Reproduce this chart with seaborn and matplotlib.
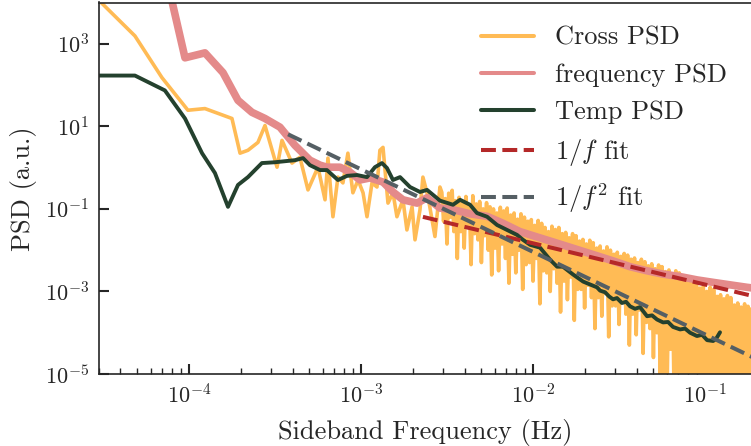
import numpy as np
import matplotlib
matplotlib.use("Agg")
import matplotlib.pyplot as plt
import matplotlib.ticker as mticker
import seaborn as sns

# ---------------- data (log10 of frequency in Hz, log10 of PSD) ----------------
cross_logf = [
    -4.523, -4.314, -4.157, -4.006, -3.907, -3.750, -3.703, -3.657, -3.599, -3.558,
    -3.488, -3.459, -3.401, -3.355, -3.308, -3.250, -3.209, -3.192, -3.163, -3.134,
    -3.105, -3.076, -3.047, -3.017, -2.988, -2.965, -2.936, -2.907, -2.890, -2.872,
    -2.843, -2.814, -2.791, -2.756, -2.733, -2.703, -2.686, -2.657, -2.640, -2.610,
    -2.570, -2.541,
    -2.53, -2.52, -2.51, -2.50, -2.49, -2.48, -2.47, -2.46, -2.45, -2.44,
    -2.43, -2.42, -2.41, -2.40, -2.39, -2.38, -2.37, -2.36, -2.35, -2.34,
    -2.33, -2.32, -2.31, -2.30, -2.29, -2.28, -2.27, -2.26, -2.25, -2.24,
    -2.23, -2.22, -2.21, -2.20, -2.19, -2.18, -2.17, -2.16, -2.15, -2.14,
    -2.13, -2.12, -2.11, -2.10, -2.09, -2.08, -2.07, -2.06, -2.05, -2.04,
    -2.03, -2.02, -2.01, -2.00, -1.99, -1.98, -1.97, -1.96, -1.95, -1.94,
    -1.93, -1.92, -1.91, -1.90, -1.89, -1.88, -1.87, -1.86, -1.85, -1.84,
    -1.83, -1.82, -1.81, -1.80, -1.79, -1.78, -1.77, -1.76, -1.75, -1.74,
    -1.73, -1.72, -1.71, -1.70, -1.69, -1.68, -1.67, -1.66, -1.65, -1.64,
    -1.63, -1.62, -1.61, -1.60, -1.59, -1.58, -1.57, -1.56, -1.55, -1.54,
    -1.53, -1.52, -1.51, -1.50, -1.49, -1.48, -1.47, -1.46, -1.45, -1.44,
    -1.43, -1.42, -1.41, -1.40, -1.39, -1.38, -1.37, -1.36, -1.35, -1.34,
    -1.33, -1.32, -1.31, -1.30, -1.29, -1.28, -1.27, -1.26, -1.25, -1.24,
    -1.23, -1.22, -1.21, -1.20, -1.19, -1.18, -1.17, -1.16, -1.15, -1.14,
    -1.13, -1.12, -1.11, -1.10, -1.09, -1.08, -1.07, -1.06, -1.05, -1.04,
    -1.03, -1.02, -1.01, -1.00, -0.99, -0.98, -0.97, -0.96, -0.95, -0.94,
    -0.93, -0.92, -0.91, -0.90, -0.89, -0.88, -0.87, -0.86, -0.85, -0.84,
    -0.83, -0.82, -0.81, -0.80, -0.79, -0.78, -0.77, -0.76, -0.75, -0.74,
    -0.73, -0.72, -0.71, -0.70,
]
cross_logpsd = [
    4.05, 3.19, 2.18, 1.39, 1.43, 1.19, 0.35, 0.42, 0.61, 1.02,
    0.01, 0.66, 0.11, 0.25, -0.54, 0.01, -0.78, 0.23, -1.19, -0.23,
    -0.37, 0.35, -0.61, -0.30, -0.61, -1.19, -0.37, -0.47, 0.42, 0.49,
    -0.86, -0.61, -1.19, -0.78, -1.51, -0.95, -1.75, -1.02, -0.23, -0.71,
    -1.67, -0.47,
    -0.60, -1.30, -0.75, -1.85, -0.62, -1.20, -0.55, -1.55, -0.80, -2.20,
    -0.72, -1.55, -0.85, -1.95, -0.70, -1.45, -0.90, -2.35, -0.68, -1.60,
    -0.88, -1.75, -0.82, -2.30, -1.00, -1.65, -0.85, -2.00, -0.95, -2.60,
    -1.00, -1.95, -1.10, -2.50, -0.96, -1.85, -1.05, -2.20, -0.98, -2.80,
    -1.15, -2.10, -1.10, -2.55, -1.25, -2.00, -1.12, -2.95, -1.20, -2.35,
    -1.30, -2.30, -1.26, -2.75, -1.40, -2.20, -1.28, -3.30, -1.35, -2.50,
    -1.45, -2.55, -1.55, -3.00, -1.42, -2.45, -1.50, -2.80, -1.45, -3.50,
    -1.60, -2.75, -1.57, -3.20, -1.70, -2.65, -1.60, -3.70, -1.65, -2.95,
    -1.78, -2.95, -1.74, -3.40, -1.85, -2.85, -1.76, -3.15, -1.82, -3.90,
    -1.95, -3.15, -1.90, -3.60, -2.02, -3.05, -1.92, -4.10, -2.00, -3.35,
    -2.10, -3.35, -2.05, -3.80, -2.15, -3.25, -2.08, -3.55, -2.12, -4.30,
    -2.22, -3.55, -2.19, -4.05, -2.30, -3.45, -2.22, -4.50, -2.28, -3.75,
    -2.38, -3.90, -2.33, -4.60, -2.45, -4.00, -2.36, -5.30, -2.40, -5.60,
    -2.52, -5.20, -2.48, -4.40, -2.60, -5.50, -2.50, -5.80, -2.55, -5.30,
    -2.72, -5.40, -2.67, -5.60, -2.80, -5.20, -2.70, -5.90, -2.75, -5.50,
    -2.92, -5.50, -2.88, -5.80, -3.00, -5.30, -2.90, -6.00, -2.95, -5.60,
    -3.12, -5.70, -3.08, -5.40, -3.18, -5.90, -3.10, -5.60, -3.15, -6.10,
    -3.33, -5.80, -3.28, -6.00, -3.38, -5.60, -3.30, -6.20, -3.36, -5.90,
    -3.42, -6.00, -3.40, -5.80,
]

freq_logf = [
    -4.523, -4.314, -4.169, -4.023, -3.907, -3.802, -3.715, -3.634, -3.558, -3.471,
    -3.384, -3.297, -3.238, -3.198, -3.122, -3.064, -3.006, -2.948, -2.872, -2.814,
    -2.756, -2.674, -2.616, -2.541, -2.465, -2.366, -2.267, -2.174, -2.076, -1.977,
    -1.884, -1.785, -1.686, -1.610, -1.535, -1.436, -1.337, -1.244, -1.145, -1.047,
    -0.953, -0.855, -0.756, -0.698,
]
freq_logpsd = [
    7.5, 6.5, 5.3, 2.66, 2.78, 2.30, 1.63, 1.34, 1.19, 0.98,
    0.54, 0.18, 0.06, 0.01, 0.01, -0.11, -0.30, -0.25, -0.35, -0.59,
    -0.78, -0.86, -0.73, -0.98, -1.02, -1.12, -1.18, -1.35, -1.55, -1.68,
    -1.80, -1.93, -2.06, -2.16, -2.26, -2.40, -2.50, -2.58, -2.64, -2.72,
    -2.78, -2.84, -2.90, -2.93,
]

temp_logf = [
    -4.523, -4.314, -4.140, -4.023, -3.924, -3.849, -3.773, -3.715, -3.657, -3.576,
    -3.500, -3.384, -3.337, -3.297, -3.238, -3.198, -3.134, -3.081, -3.023, -2.965,
    -2.919, -2.878, -2.849, -2.814, -2.773, -2.715, -2.657, -2.616, -2.541, -2.465,
    -2.424, -2.366, -2.326, -2.267, -2.209, -2.151, -2.093, -2.058, -2.017, -1.959,
    -1.901, -1.860, -1.826, -1.767, -1.709, -1.669, -1.628, -1.610, -1.581, -1.558,
    -1.535, -1.512, -1.483, -1.459, -1.436, -1.407, -1.378, -1.337, -1.308, -1.279,
    -1.244, -1.215, -1.186, -1.145, -1.116, -1.087, -1.047, -1.017, -0.988, -0.953,
    -0.936, -0.913,
]
temp_logpsd = [
    2.23, 2.23, 1.87, 1.19, 0.35, -0.13, -0.95, -0.42, -0.23, 0.11,
    0.13, 0.18, 0.23, 0.06, -0.06, -0.06, -0.30, -0.20, -0.18, -0.23,
    0.01, 0.11, -0.01, -0.30, -0.23, -0.47, -0.59, -0.54, -0.80, -0.90,
    -0.78, -0.90, -1.10, -1.19, -1.39, -1.51, -1.63, -1.75, -1.87, -1.94,
    -2.23, -2.40, -2.40, -2.59, -2.76, -2.83, -2.90, -2.98, -3.02, -3.12,
    -3.19, -3.16, -3.28, -3.25, -3.36, -3.42, -3.38, -3.60, -3.58, -3.68,
    -3.75, -3.74, -3.86, -3.92, -3.90, -4.00, -4.08, -4.05, -4.18, -4.20,
    -4.15, -3.99,
]

fit1_logf = [-2.640, -0.700]
fit1_logpsd = [-1.193, -3.133]
fit2_logf = [-3.424, -0.700]
fit2_logpsd = [0.807, -4.641]

labels = ["Cross PSD", "frequency PSD", "Temp PSD", r"$1/f$ fit", r"$1/f^2$ fit"]
x_ticks = [1e-4, 1e-3, 1e-2, 1e-1]
y_ticks = [1e-5, 1e-3, 1e-1, 1e1, 1e3]

# ---------------- style ----------------
sns.set_style("ticks")
plt.rcParams.update({
    "font.family": "serif",
    "font.serif": ["cmr10"],
    "mathtext.fontset": "cm",
    "axes.formatter.use_mathtext": True,
    "axes.linewidth": 1.2,
})

C_ORANGE = "#FFBB55"
C_PINK = "#E48A8A"
C_GREEN = "#24412E"
C_RED = "#B42828"
C_GRAY = "#555F64"

fig = plt.figure(figsize=(7.51, 4.46), dpi=100)
ax = fig.add_axes([99 / 751, 72 / 446, 652 / 751, 371.5 / 446])
ax.set_xscale("log")
ax.set_yscale("log")

def tenpow(v):
    return np.power(10.0, np.asarray(v, dtype=float))

sns.lineplot(x=tenpow(cross_logf), y=tenpow(cross_logpsd), ax=ax, color=C_ORANGE,
             lw=2.6, label=labels[0], estimator=None, sort=False)
sns.lineplot(x=tenpow(freq_logf), y=tenpow(freq_logpsd), ax=ax, color=C_PINK,
             lw=5.5, label=labels[1], estimator=None, sort=False)
sns.lineplot(x=tenpow(temp_logf), y=tenpow(temp_logpsd), ax=ax, color=C_GREEN,
             lw=2.8, label=labels[2], estimator=None, sort=False)
sns.lineplot(x=tenpow(fit1_logf), y=tenpow(fit1_logpsd), ax=ax, color=C_RED,
             lw=2.9, linestyle="--", label=labels[3], estimator=None, sort=False)
sns.lineplot(x=tenpow(fit2_logf), y=tenpow(fit2_logpsd), ax=ax, color=C_GRAY,
             lw=2.9, linestyle="--", label=labels[4], estimator=None, sort=False)

ax.set_xlim(3.0e-5, 0.185)
ax.set_ylim(1e-5, 1e4)

ax.xaxis.set_major_locator(mticker.FixedLocator(x_ticks))
ax.xaxis.set_major_formatter(mticker.LogFormatterSciNotation())
ax.xaxis.set_minor_locator(mticker.LogLocator(base=10, subs=np.arange(2, 10), numticks=20))
ax.xaxis.set_minor_formatter(mticker.NullFormatter())
ax.yaxis.set_major_locator(mticker.FixedLocator(y_ticks))
ax.yaxis.set_major_formatter(mticker.LogFormatterSciNotation())
ax.yaxis.set_minor_locator(mticker.NullLocator())

ax.tick_params(which="both", direction="in", top=False, right=False)
ax.tick_params(which="major", length=7, width=1.5, labelsize=16)
ax.tick_params(which="minor", length=4, width=1.0)
ax.tick_params(axis="y", which="major", pad=7)
ax.tick_params(axis="x", which="major", pad=7)
ax.spines["right"].set_visible(False)

ax.set_xlabel("Sideband Frequency (Hz)", fontsize=19, labelpad=8)
ax.set_ylabel("PSD (a.u.)", fontsize=19, labelpad=6)

leg = ax.legend(loc="upper right", frameon=False, fontsize=19)
for h in leg.legend_handles:
    h.set_linewidth(2.9)

fig.savefig("out.png", dpi=100)
